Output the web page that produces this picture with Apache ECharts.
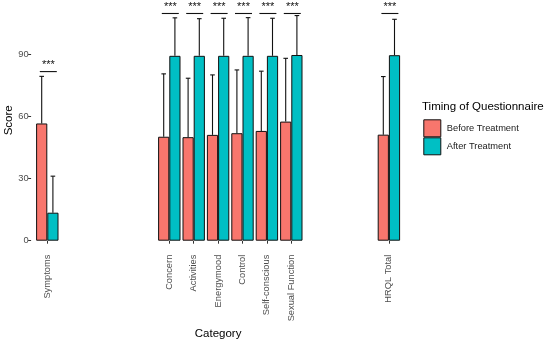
<!DOCTYPE html>
<html>
<head>
<meta charset="utf-8">
<script src="https://cdn.jsdelivr.net/npm/echarts@6/dist/echarts.min.js"></script>
<style>html,body{margin:0;padding:0;background:#fff;}#c{width:550px;height:343px;}</style>
</head>
<body>
<div id="c"></div>
<script>
// ---- data ----
var categories = ['Symptoms', ' ', '  ', '   ', '    ', 'Concern', 'Activities', 'Energymood', 'Control', 'Self-conscious', 'Sexual Function', '     ', '      ', '       ', 'HRQL Total'];
var beforeMean  = [56.5, null, null, null, null, 50.1, 49.9, 51.0, 51.8, 52.9, 57.4, null, null, null, 51.1];
var beforeUpper = [79.2, null, null, null, null, 80.4, 78.3, 79.9, 82.3, 81.7, 87.9, null, null, null, 79.1];
var afterMean   = [13.5, null, null, null, null, 89.1, 89.1, 89.1, 89.1, 89.1, 89.5, null, null, null, 89.4];
var afterUpper  = [31.1, null, null, null, null, 107.4, 107.0, 107.2, 107.5, 107.2, 108.5, null, null, null, 106.7];
var sigCategories = ['Symptoms', 'Concern', 'Activities', 'Energymood', 'Control', 'Self-conscious', 'Sexual Function', 'HRQL Total'];
var sigHeight = [81.5, 109.5, 109.5, 109.5, 109.5, 109.5, 109.5, 109.5];
var sigLabel = ['***', '***', '***', '***', '***', '***', '***', '***'];
var yTicks = [0, 30, 60, 90];
var seriesNames = ['Before Treatment', 'After Treatment'];
var legendTitle = 'Timing of Questionnaire';

// ---- build ----
var FONT = '"Liberation Sans", Arial, Helvetica, sans-serif';
var BAR_W = 11.2;
function errData(means, uppers) {
  var out = [];
  for (var i = 0; i < categories.length; i++) {
    if (means[i] != null) out.push([i, means[i], uppers[i]]);
  }
  return out;
}
function errSeries(name, means, uppers, dx) {
  return {
    type: 'custom', name: name, z: 5,
    data: errData(means, uppers),
    encode: {x: 0, y: [1, 2]},
    renderItem: function (params, api) {
      var c = api.value(0);
      var p0 = api.coord([c, api.value(1)]);
      var p1 = api.coord([c, api.value(2)]);
      var x = p0[0] + dx;
      var st = {stroke: '#111', lineWidth: 1.1};
      return {type: 'group', children: [
        {type: 'line', shape: {x1: x, y1: p0[1], x2: x, y2: p1[1]}, style: st},
        {type: 'line', shape: {x1: x - 2.3, y1: p1[1], x2: x + 2.3, y2: p1[1]}, style: st}
      ]};
    }
  };
}
var sigData = sigCategories.map(function (c, i) {
  return [categories.indexOf(c), sigHeight[i], sigLabel[i]];
});

var chart = echarts.init(document.getElementById('c'), null, {renderer: 'canvas'});
chart.setOption({
  animation: false,
  textStyle: {fontFamily: FONT},
  grid: {left: 35.1, width: 366, top: 0, bottom: 102.3, containLabel: false, outerBoundsMode: 'none'},
  title: {
    text: legendTitle, left: 422, top: 101, padding: 0,
    textStyle: {fontFamily: FONT, fontSize: 11.5, fontWeight: 'normal', color: '#000'}
  },
  legend: {
    data: seriesNames, orient: 'vertical', left: 423.3, top: 119.3,
    itemWidth: 17, itemHeight: 17, itemGap: 0, icon: 'rect', padding: 0,
    itemStyle: {borderWidth: 1, borderColor: '#111'},
    textStyle: {fontFamily: FONT, fontSize: 9.3, color: '#1a1a1a', padding: [0, 0, 0, 1]}
  },
  xAxis: {
    type: 'category', data: categories, boundaryGap: true, offset: 10.5,
    name: 'Category', nameLocation: 'middle', nameGap: 77, nameMoveOverlap: false,
    nameTextStyle: {fontFamily: FONT, fontSize: 11.5, color: '#000'},
    axisLine: {show: false},
    axisTick: {show: true, alignWithLabel: true, length: 3, lineStyle: {color: '#333', width: 1},
      interval: function (idx, val) { return val.trim() !== ''; }},
    axisLabel: {rotate: 90, margin: 3.5, fontSize: 9.3, color: '#4D4D4D', interval: 0, fontFamily: FONT}
  },
  yAxis: {
    type: 'value', min: 0, max: 116, offset: 4,
    name: 'Score', nameLocation: 'middle', nameGap: 16.5, nameMoveOverlap: false,
    nameTextStyle: {fontFamily: FONT, fontSize: 11.5, color: '#000'},
    axisLine: {show: false},
    splitLine: {show: false},
    axisTick: {show: true, length: 3, lineStyle: {color: '#333', width: 1}, customValues: yTicks},
    axisLabel: {fontSize: 9.3, color: '#4D4D4D', margin: 2.5, customValues: yTicks, fontFamily: FONT}
  },
  series: [
    {type: 'bar', name: seriesNames[0], data: beforeMean, barWidth: BAR_W, barGap: '0%',
      itemStyle: {color: '#F8766D', borderColor: '#111', borderWidth: 1}},
    {type: 'bar', name: seriesNames[1], data: afterMean, barWidth: BAR_W, barGap: '0%',
      itemStyle: {color: '#00BFC4', borderColor: '#111', borderWidth: 1}},
    errSeries('errBefore', beforeMean, beforeUpper, -BAR_W / 2),
    errSeries('errAfter', afterMean, afterUpper, BAR_W / 2),
    {
      type: 'custom', name: 'sig', z: 6, data: sigData,
      encode: {x: 0, y: 1},
      renderItem: function (params, api) {
        var p = api.coord([api.value(0), api.value(1)]);
        var x = p[0] + 1, y = p[1];
        return {type: 'group', children: [
          {type: 'line', shape: {x1: x - 8.5, y1: y, x2: x + 8.5, y2: y}, style: {stroke: '#111', lineWidth: 1.1}},
          {type: 'text', x: x, y: y - 1, style: {text: sigData[params.dataIndex][2], fontFamily: FONT, fontSize: 11, fill: '#111', align: 'center', verticalAlign: 'bottom'}}
        ]};
      }
    }
  ]
});
</script>
</body>
</html>
